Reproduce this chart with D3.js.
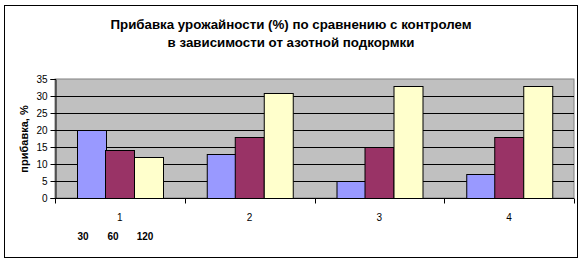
<!DOCTYPE html>
<html>
<head>
<meta charset="utf-8">
<script src="https://cdn.jsdelivr.net/npm/d3@7"></script>
<style>
  body { margin: 0; background: #fff; }
  svg text { font-family: Arial, "Liberation Sans", sans-serif; }
</style>
</head>
<body>
<div id="app"></div>
<script>
// data
var categories = ["1", "2", "3", "4"];
var seriesNames = ["30", "60", "120"];
var series30 = [20, 13, 5, 7];
var series60 = [14, 18, 15, 18];
var series120 = [12, 31, 33, 33];
var yTicks = [0, 5, 10, 15, 20, 25, 30, 35];
var titleLines = ["Прибавка урожайности (%) по сравнению с контролем", "в зависимости от азотной подкормки"];
var yLabel = "прибавка, %";

var colors = ["#9999FF", "#993366", "#FFFFCC"];
var allSeries = [series30, series60, series120];

var width = 588, height = 264;
var plot = {left: 55, top: 79, right: 574, bottom: 198};

var svg = d3.select("#app").append("svg")
    .attr("width", width)
    .attr("height", height);

// chart border
svg.append("rect")
    .attr("x", 4.5).attr("y", 5.5)
    .attr("width", 573).attr("height", 252)
    .attr("fill", "#fff")
    .attr("stroke", "#000");

// title
svg.selectAll(".title")
    .data(titleLines)
  .enter().append("text")
    .attr("class", "title")
    .attr("x", 291)
    .attr("y", function(d, i) { return 29 + i * 18; })
    .attr("text-anchor", "middle")
    .attr("font-size", 13.3)
    .attr("font-weight", "bold")
    .text(function(d) { return d; });

var x = d3.scaleBand()
    .domain(categories)
    .range([plot.left, plot.right]);

var x1 = d3.scaleBand()
    .domain(d3.range(seriesNames.length))
    .range([0, x.bandwidth()])
    .paddingInner(0)
    .paddingOuter(0.75);

var y = d3.scaleLinear()
    .domain([0, 35])
    .range([plot.bottom, plot.top]);

// plot background
svg.append("rect")
    .attr("x", plot.left).attr("y", plot.top)
    .attr("width", plot.right - plot.left)
    .attr("height", plot.bottom - plot.top)
    .attr("fill", "#C0C0C0")
    .attr("stroke", "#808080");

// gridlines
svg.append("g")
  .selectAll("line")
    .data(yTicks.filter(function(d) { return d > 0 && d < 35; }))
  .enter().append("line")
    .attr("x1", plot.left).attr("x2", plot.right)
    .attr("y1", function(d) { return Math.round(y(d)) + 0.5; })
    .attr("y2", function(d) { return Math.round(y(d)) + 0.5; })
    .attr("stroke", "#000");

// bars
var groups = svg.append("g")
  .selectAll("g")
    .data(categories)
  .enter().append("g")
    .attr("transform", function(d) { return "translate(" + x(d) + ",0)"; });

groups.selectAll("rect")
    .data(function(d, i) { return allSeries.map(function(s, j) { return {s: j, v: s[i]}; }); })
  .enter().append("rect")
    .attr("x", function(d) { return Math.round(x1(d.s)) + 0.5; })
    .attr("y", function(d) { return Math.round(y(d.v)) + 0.5; })
    .attr("width", Math.round(x1.bandwidth()))
    .attr("height", function(d) { return Math.round(y(0)) - Math.round(y(d.v)); })
    .attr("fill", function(d) { return colors[d.s]; })
    .attr("stroke", "#000");

// y axis
var yAxis = svg.append("g")
    .attr("transform", "translate(" + (plot.left + 0.5) + ",0)")
    .call(d3.axisLeft(y).tickValues(yTicks).tickSize(5).tickPadding(3));
yAxis.select(".domain").attr("stroke", "#000");
yAxis.selectAll("text").attr("font-size", 10).attr("font-family", "Arial, 'Liberation Sans', sans-serif");

// x axis
var xAxis = svg.append("g")
    .attr("transform", "translate(0," + (Math.round(plot.bottom) + 0.5) + ")");
xAxis.append("line")
    .attr("x1", plot.left).attr("x2", plot.right)
    .attr("stroke", "#000");
xAxis.selectAll(".tk")
    .data(categories.concat(["end"]))
  .enter().append("line")
    .attr("x1", function(d, i) { return Math.round(plot.left + i * x.bandwidth()) + 0.5; })
    .attr("x2", function(d, i) { return Math.round(plot.left + i * x.bandwidth()) + 0.5; })
    .attr("y1", 0).attr("y2", 5)
    .attr("stroke", "#000");
xAxis.selectAll(".lbl")
    .data(categories)
  .enter().append("text")
    .attr("x", function(d) { return x(d) + x.bandwidth() / 2; })
    .attr("y", 22)
    .attr("text-anchor", "middle")
    .attr("font-size", 10)
    .text(function(d) { return d; });

// series labels under first group
var serX = [83, 113, 145];
svg.selectAll(".ser")
    .data(seriesNames)
  .enter().append("text")
    .attr("x", function(d, i) { return serX[i]; })
    .attr("y", 240)
    .attr("text-anchor", "middle")
    .attr("font-size", 10)
    .attr("font-weight", "bold")
    .text(function(d) { return d; });

// y label
svg.append("text")
    .attr("transform", "translate(28,139) rotate(-90)")
    .attr("text-anchor", "middle")
    .attr("font-size", 11)
    .attr("font-weight", "bold")
    .text(yLabel);
</script>
</body>
</html>
